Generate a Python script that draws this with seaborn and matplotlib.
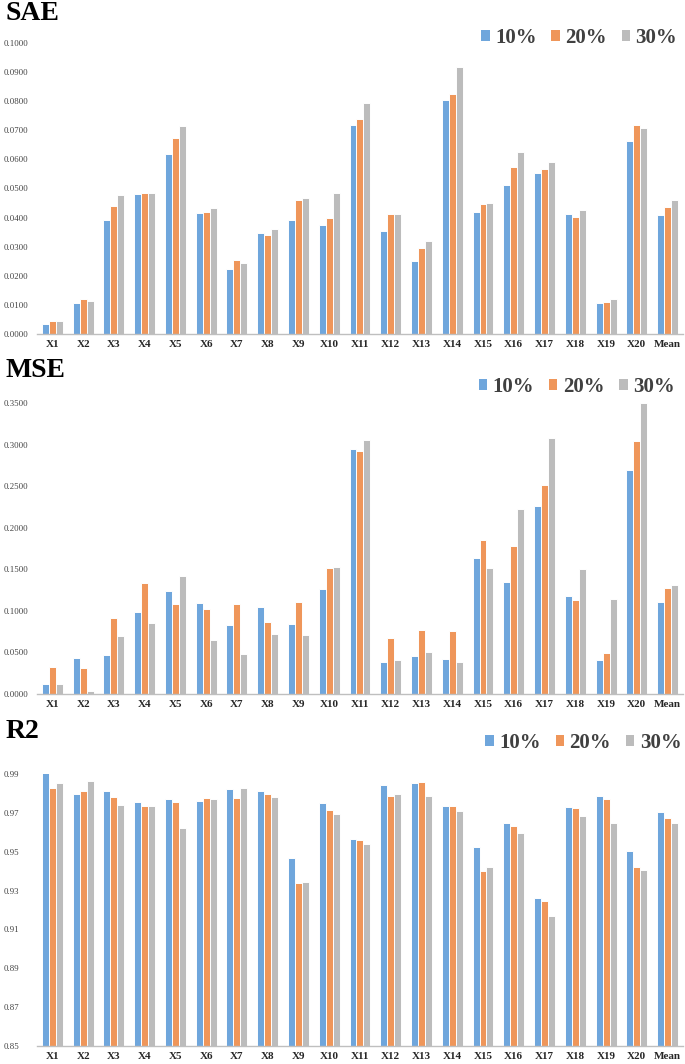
import numpy as np
import pandas as pd
import seaborn as sns
import matplotlib.pyplot as plt
from matplotlib.patches import Patch
from matplotlib.ticker import FormatStrFormatter

features = [f"X{i}" for i in range(1, 21)] + ["Mean"]
rates = ["10%", "20%", "30%"]
colors = ["#6FA6DC", "#EF965A", "#BCBCBC"]

sae_10 = [0.0036, 0.0105, 0.0392, 0.0481, 0.0617, 0.0416, 0.0225, 0.0346, 0.0391, 0.0373,
          0.0718, 0.0354, 0.0250, 0.0803, 0.0418, 0.0513, 0.0554, 0.0411, 0.0107, 0.0663, 0.0410]
sae_20 = [0.0046, 0.0120, 0.0440, 0.0485, 0.0675, 0.0420, 0.0255, 0.0339, 0.0462, 0.0400,
          0.0740, 0.0414, 0.0296, 0.0825, 0.0447, 0.0574, 0.0566, 0.0402, 0.0110, 0.0717, 0.0438]
sae_30 = [0.0046, 0.0115, 0.0477, 0.0486, 0.0714, 0.0434, 0.0244, 0.0361, 0.0468, 0.0485,
          0.0795, 0.0414, 0.0318, 0.0918, 0.0451, 0.0625, 0.0591, 0.0425, 0.0121, 0.0707, 0.0459]

mse_10 = [0.0117, 0.0431, 0.0472, 0.0987, 0.1238, 0.1096, 0.0834, 0.1048, 0.0846, 0.1266,
          0.2942, 0.0391, 0.0455, 0.0427, 0.1631, 0.1346, 0.2260, 0.1181, 0.0415, 0.2689, 0.1104]
mse_20 = [0.0327, 0.0310, 0.0911, 0.1334, 0.1082, 0.1020, 0.1088, 0.0862, 0.1104, 0.1511,
          0.2922, 0.0673, 0.0770, 0.0758, 0.1851, 0.1783, 0.2513, 0.1136, 0.0488, 0.3046, 0.1278]
mse_30 = [0.0125, 0.0032, 0.0693, 0.0858, 0.1419, 0.0649, 0.0480, 0.0721, 0.0709, 0.1527,
          0.3059, 0.0415, 0.0504, 0.0391, 0.1511, 0.2228, 0.3082, 0.1503, 0.1145, 0.3500, 0.1306]

r2_10 = [0.9903, 0.9795, 0.9810, 0.9754, 0.9773, 0.9759, 0.9824, 0.9810, 0.9466, 0.9749,
         0.9563, 0.9841, 0.9855, 0.9737, 0.9526, 0.9648, 0.9260, 0.9728, 0.9786, 0.9503, 0.9704]
r2_20 = [0.9828, 0.9810, 0.9783, 0.9733, 0.9754, 0.9778, 0.9778, 0.9795, 0.9337, 0.9716,
         0.9560, 0.9785, 0.9860, 0.9737, 0.9400, 0.9634, 0.9246, 0.9726, 0.9769, 0.9421, 0.9671]
r2_30 = [0.9853, 0.9862, 0.9740, 0.9733, 0.9620, 0.9769, 0.9828, 0.9783, 0.9346, 0.9692,
         0.9538, 0.9797, 0.9786, 0.9709, 0.9419, 0.9594, 0.9167, 0.9685, 0.9648, 0.9406, 0.9648]


def long_frame(v10, v20, v30):
    parts = []
    for rate, vals in zip(rates, [v10, v20, v30]):
        parts.append(pd.DataFrame({"feature": features, "value": vals, "rate": rate}))
    return pd.concat(parts, ignore_index=True)


sns.set_theme(style="white")
plt.rcParams["font.family"] = ["Liberation Serif", "DejaVu Serif"]

fig = plt.figure(figsize=(6.85, 10.64), dpi=100)

panels = [
    ("SAE", long_frame(sae_10, sae_20, sae_30), [0.054, 0.6861, 0.943, 0.2735],
     (0, 0.1), np.arange(0, 0.1001, 0.01), "%.4f", 0.9812, (1.004, 0.9643)),
    ("MSE", long_frame(mse_10, mse_20, mse_30), [0.054, 0.3477, 0.943, 0.2735],
     (0, 0.35), np.arange(0, 0.3501, 0.05), "%.4f", 0.6457, (1.000, 0.6363)),
    ("R2", long_frame(r2_10, r2_20, r2_30), [0.054, 0.0169, 0.943, 0.2557],
     (0.85, 0.99), np.arange(0.85, 0.9901, 0.02), "%.2f", 0.3064, (1.010, 0.3017)),
]

for title, df, rect, ylim, yticks, fmt, title_y, leg_pos in panels:
    ax = fig.add_axes(rect)
    sns.barplot(data=df, x="feature", y="value", hue="rate", palette=colors,
                width=0.68, saturation=1, edgecolor="white", linewidth=0.7,
                errorbar=None, legend=False, ax=ax)
    ax.set_ylim(*ylim)
    ax.set_yticks(yticks)
    ax.yaxis.set_major_formatter(FormatStrFormatter(fmt))
    ax.set_xlim(-0.5, len(features) - 0.5)
    ax.set_xlabel("")
    ax.set_ylabel("")
    for side in ["top", "right", "left"]:
        ax.spines[side].set_visible(False)
    ax.spines["bottom"].set_color("#BFBFBF")
    ax.spines["bottom"].set_linewidth(1.0)
    ax.tick_params(axis="y", length=0, pad=24, labelsize=6.3, labelcolor="#404040")
    ax.tick_params(axis="x", length=0, pad=4, labelsize=8, labelcolor="#262626")
    for lab in ax.get_yticklabels():
        lab.set_horizontalalignment("left")
    for lab in ax.get_xticklabels():
        lab.set_fontweight("bold")

    fig.text(0.008, title_y, title, fontsize=20, fontweight="bold", va="baseline", ha="left",
             color="black")

    handles = [Patch(facecolor=c, edgecolor="none") for c in colors]
    fig.legend(handles, rates, loc="center right", bbox_to_anchor=leg_pos, ncol=3,
               frameon=False, prop={"size": 15, "weight": "bold"},
               handlelength=0.42, handleheight=0.42, handletextpad=0.25,
               columnspacing=0.7, borderpad=0, labelcolor="#404040")

fig.savefig("out.png", dpi=100)
